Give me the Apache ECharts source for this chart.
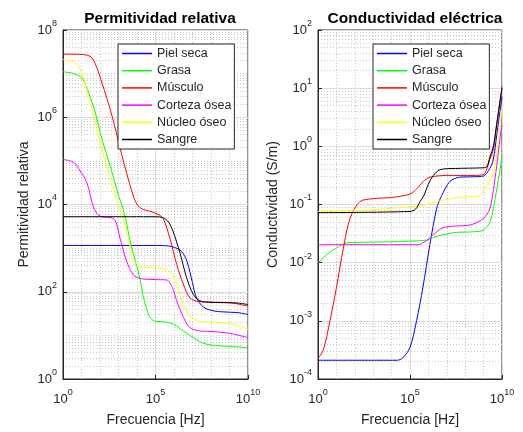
<!DOCTYPE html>
<html>
<head>
<meta charset="utf-8">
<script src="https://cdn.jsdelivr.net/npm/echarts@6/dist/echarts.min.js"></script>
<style>html,body{margin:0;padding:0;background:#fff;}#c{width:523px;height:432px;}</style>
</head>
<body>
<div id="c"></div>
<script>
// ---------- data (frequency in Hz, value) ----------
const names = ['Piel seca', 'Grasa', 'Músculo', 'Corteza ósea', 'Núcleo óseo', 'Sangre'];
const colors = ['#0000ff', '#00ff00', '#ff0000', '#ff00ff', '#ffff00', '#000000'];

const permPielSeca = [[1,1150],[1e5,1150],[3e5,1140],[8e5,1080],[2.5e6,850],[5e6,500],[1e7,160],[1.6e7,75],[4e7,44],[1.6e8,36],[1e9,34],[3.2e9,33],[1e10,30]];
const permGrasa = [[1,1.1e7],[4,1.0e7],[10.7,7.9e6],[24.5,3.6e6],[56,1.26e6],[126,3.2e5],[447,5.5e4],[1000,1.6e4],[1550,9500],[2820,3500],[4000,1600],[6300,760],[9500,400],[1.45e4,200],[2.2e4,76],[4e4,32],[6.3e4,23],[1e5,21],[4e5,20],[1e6,17.8],[3.2e6,12.6],[1.1e7,8.9],[3.2e7,6.8],[1e8,6],[1e9,5.6],[1e10,5.2]];
const permMusculo = [[1,2.8e7],[10,2.75e7],[37,2.3e7],[126,6.2e6],[447,1.07e6],[1550,1.3e5],[5370,1.95e4],[1e4,1e4],[1.86e4,7900],[5e4,7000],[1e5,6300],[1.6e5,5750],[2.6e5,4800],[6e5,1700],[1.4e6,420],[3.2e6,150],[7.2e6,72],[2e7,60],[1e8,58],[1e9,56],[3.2e9,52],[1e10,47]];
const permCorteza = [[1,1.07e5],[2.5,1.0e5],[4.7,8.5e4],[10,5.2e4],[16,3.9e4],[24.5,2.3e4],[37,1.12e4],[66,6300],[126,5250],[500,4800],[800,3550],[1200,1700],[2750,500],[6300,245],[1.6e4,200],[1e5,190],[4e5,186],[8e5,126],[1.4e6,62],[3.2e6,26],[7.2e6,15],[2.5e7,12.6],[1e8,12.3],[1e9,11.2],[3.2e9,10],[1e10,8.9]];
const permNucleo = [[1,2.1e7],[3.16,1.9e7],[7,1.48e7],[12.6,7.9e6],[24.5,3e6],[56,7.6e5],[126,1.86e5],[447,2.75e4],[1000,9500],[1780,5000],[2820,2400],[4000,1260],[6300,600],[1e4,420],[2e4,360],[1e5,355],[4e5,320],[8e5,250],[1.4e6,150],[3.2e6,51],[7.2e6,28],[2.5e7,21],[1e8,20],[1e9,18.6],[3.2e9,16.6],[1e10,13.8]];
const permSangre = [[1,5250],[1e5,5250],[2.5e5,5000],[5e5,4000],[9e5,2400],[2.1e6,780],[4.8e6,210],[1.1e7,87],[2.5e7,62],[1e8,57],[1e9,56],[3e9,55],[1e10,51]];

const condPielSeca = [[1,2.1e-4],[2e4,2.1e-4],[4e4,2.3e-4],[1e5,3.5e-4],[2.3e5,1.02e-3],[5e5,3.7e-3],[1.2e6,2.04e-2],[2.8e6,8.5e-2],[5.2e6,0.141],[1.5e7,0.25],[5e7,0.295],[3e8,0.3],[1e9,0.31],[2.2e9,0.42],[3.4e9,0.6],[5.1e9,1.51],[1e10,7.2]];
const condGrasa = [[1,0.01],[1.9,0.012],[4,0.0148],[10,0.0178],[36,0.0219],[300,0.0224],[1.26e4,0.0229],[1e5,0.0234],[8e5,0.0245],[2e6,0.0275],[6.3e6,0.0302],[3e7,0.0331],[2.5e8,0.0339],[1e9,0.0363],[2.2e9,0.05],[3.4e9,0.085],[5.1e9,0.178],[8e9,0.41],[1e10,0.71]];
const condMusculo = [[1,2.24e-4],[1.95,3.16e-4],[4.47,1e-3],[10,3.7e-3],[24,1.78e-2],[55,5.75e-2],[190,0.112],[1000,0.126],[1e4,0.132],[1e5,0.151],[2.5e5,0.19],[5e5,0.245],[1.23e6,0.295],[1e7,0.316],[3e8,0.316],[1e9,0.33],[1.5e9,0.41],[2.2e9,0.6],[3.4e9,0.89],[5.1e9,2.24],[1e10,10.7]];
const condCorteza = [[1,0.0204],[3e5,0.0204],[5e5,0.0219],[1e6,0.0251],[1.8e6,0.0302],[6.3e6,0.0398],[3e7,0.0427],[2e8,0.0447],[1e9,0.0575],[2.2e9,0.085],[3.4e9,0.178],[5.1e9,0.447],[7.9e9,1.41],[1e10,2.34]];
const condNucleo = [[1,0.0759],[1e3,0.0813],[1e5,0.0912],[3.5e5,0.0933],[2.8e6,0.112],[5e7,0.132],[4e8,0.138],[6.3e8,0.145],[1e9,0.174],[1.8e9,0.224],[3.4e9,0.355],[5.1e9,0.76],[7.4e9,2.0],[1e10,4.9]];
const condSangre = [[1,0.0724],[1e5,0.0759],[2e5,0.083],[3.5e5,0.112],[5.6e5,0.141],[1e6,0.224],[1.86e6,0.316],[4.3e6,0.398],[3e7,0.417],[8e8,0.427],[1.5e9,0.447],[2.2e9,0.66],[3.4e9,1.0],[5.1e9,2.4],[1e10,10]];

// tick values (labels shown as 10^n)
const xTicks = [1, 1e5, 1e10];
const yTicksPerm = [1, 1e2, 1e4, 1e6, 1e8];
const yTicksCond = [1e-4, 1e-3, 1e-2, 1e-1, 1, 1e1, 1e2];

const titles = ['Permitividad relativa', 'Conductividad eléctrica'];
const xName = 'Frecuencia [Hz]';
const yNames = ['Permitividad relativa', 'Conductividad (S/m)'];

// ---------- helpers ----------
const FONT = '"Liberation Sans", Arial, Helvetica, sans-serif';
const TXT = '#262626';

function decadeMinors(lo, hi, majors) {
  const out = [];
  for (let e = lo; e < hi; e++) {
    for (let m = 1; m <= 9; m++) {
      const v = parseFloat((m * Math.pow(10, e)).toPrecision(6));
      if (majors.some(t => Math.abs(t - v) / v < 1e-9)) continue;
      out.push(v);
    }
  }
  return out;
}
function decadesOnly(lo, hi, majors) {
  const out = [];
  for (let e = lo + 1; e < hi; e++) {
    const v = Math.pow(10, e);
    if (!majors.some(t => Math.abs(t - v) / v < 1e-9)) out.push(v);
  }
  return out;
}
const supRich = {
  b: { fontSize: 13, fontFamily: FONT, color: TXT, lineHeight: 22 },
  s: { fontSize: 9, fontFamily: FONT, color: TXT, verticalAlign: 'top', lineHeight: 11 }
};
const supFormatter = v => '{b|10}{s|' + Math.round(Math.log10(v)) + '}';

function mainAxis(gridIndex, min, max, ticks, name, nameGap, margin) {
  return {
    type: 'log', logBase: 10, gridIndex, min, max,
    name, nameLocation: 'middle', nameGap,
    nameTextStyle: { fontSize: 14, fontFamily: FONT, color: TXT },
    axisLine: { show: true, onZero: false, lineStyle: { color: TXT, width: 1 } },
    axisTick: { show: true, inside: true, length: 4, customValues: ticks, lineStyle: { color: TXT } },
    axisLabel: { customValues: ticks, margin, formatter: supFormatter, rich: supRich,
                 showMinLabel: true, showMaxLabel: true, hideOverlap: false },
    splitLine: { show: true, lineStyle: { color: '#dcdcdc', width: 1 } },
    minorTick: { show: false }, minorSplitLine: { show: false }
  };
}
function minorAxis(gridIndex, min, max, vals) {
  return {
    type: 'log', logBase: 10, gridIndex, min, max,
    axisLine: { show: false }, axisLabel: { show: false },
    axisTick: { show: false, customValues: vals },
    splitLine: { show: true, lineStyle: { color: '#c8c8c8', width: 1, type: [1, 2] } }
  };
}

const xMinor = decadesOnly(0, 10, xTicks);
const yMinorPerm = decadeMinors(0, 8, yTicksPerm);
const yMinorCond = decadeMinors(-4, 2, yTicksCond);

const permSets = [permPielSeca, permGrasa, permMusculo, permCorteza, permNucleo, permSangre];
const condSets = [condPielSeca, condGrasa, condMusculo, condCorteza, condNucleo, condSangre];

const series = [];
permSets.forEach((d, i) => series.push({
  name: names[i], type: 'line', xAxisIndex: 0, yAxisIndex: 0, data: d,
  showSymbol: false, smooth: 0.3, lineStyle: { color: colors[i], width: 1 }, itemStyle: { color: colors[i] }
}));
condSets.forEach((d, i) => series.push({
  name: names[i], type: 'line', xAxisIndex: 2, yAxisIndex: 2, data: d,
  showSymbol: false, smooth: 0.3, lineStyle: { color: colors[i], width: 1 }, itemStyle: { color: colors[i] }
}));

function legend(left) {
  return {
    data: names, orient: 'vertical', left, top: 44,
    icon: 'rect', itemWidth: 30, itemHeight: 1.5, itemGap: 2.2,
    padding: [2, 3, 2, 4],
    borderColor: TXT, borderWidth: 1, backgroundColor: '#fff',
    textStyle: { fontSize: 12.5, fontFamily: FONT, color: TXT, lineHeight: 15 },
    selectedMode: false
  };
}

const option = {
  animation: false,
  backgroundColor: '#fff',
  title: [
    { text: titles[0], left: 155, top: 6, textAlign: 'center', textStyle: { fontSize: 15.5, fontWeight: 'bold', fontFamily: FONT, color: '#000' } },
    { text: titles[1], left: 410, top: 6, textAlign: 'center', textStyle: { fontSize: 15.5, fontWeight: 'bold', fontFamily: FONT, color: '#000' } }
  ],
  grid: [
    { left: 63, top: 30, width: 185, height: 352, show: true, borderColor: TXT, borderWidth: 1, backgroundColor: 'transparent' },
    { left: 318, top: 30, width: 184, height: 352, show: true, borderColor: TXT, borderWidth: 1, backgroundColor: 'transparent' }
  ],
  xAxis: [
    mainAxis(0, 1, 1e10, xTicks, xName, 34, 9),
    minorAxis(0, 1, 1e10, xMinor),
    mainAxis(1, 1, 1e10, xTicks, xName, 34, 9),
    minorAxis(1, 1, 1e10, xMinor)
  ],
  yAxis: [
    mainAxis(0, 1, 1e8, yTicksPerm, yNames[0], 32, 6),
    minorAxis(0, 1, 1e8, yMinorPerm),
    mainAxis(1, 1e-4, 1e2, yTicksCond, yNames[1], 38, 6),
    minorAxis(1, 1e-4, 1e2, yMinorCond)
  ],
  legend: [legend(118), legend(373)],
  series
};

const chart = echarts.init(document.getElementById('c'), null, { renderer: 'canvas' });
chart.setOption(option);
</script>
</body>
</html>
